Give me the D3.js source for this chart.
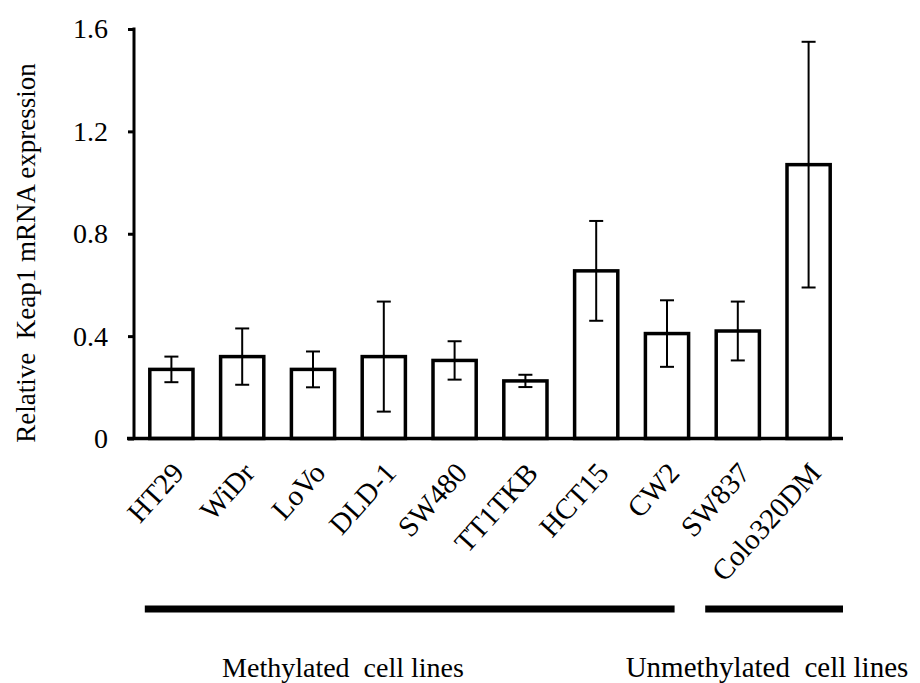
<!DOCTYPE html>
<html>
<head>
<meta charset="utf-8">
<script src="https://d3js.org/d3.v7.min.js"></script>
<style>
  body { margin: 0; background: #fff; }
  text { font-family: "Liberation Serif", "Times New Roman", serif; fill: #000; }
</style>
</head>
<body>
<svg width="920" height="683"></svg>
<script>
var cellLines = ["HT29", "WiDr", "LoVo", "DLD-1", "SW480", "TT1TKB", "HCT15", "CW2", "SW837", "Colo320DM"];
var expression = [0.27, 0.32, 0.27, 0.32, 0.305, 0.225, 0.655, 0.41, 0.42, 1.07];
var errors = [0.05, 0.11, 0.07, 0.215, 0.075, 0.024, 0.195, 0.13, 0.115, 0.48];
var yTicks = [0, 0.4, 0.8, 1.2, 1.6];
var groups = [
  {label: "Methylated  cell lines", first: "HT29", last: "CW2"},
  {label: "Unmethylated  cell lines", first: "SW837", last: "Colo320DM"}
];

var data = cellLines.map(function(c, i) {
  return {name: c, value: expression[i], err: errors[i]};
});

var svg = d3.select("svg");

var x = d3.scaleBand()
    .domain(cellLines)
    .range([136, 844])
    .paddingInner(0.39)
    .paddingOuter(0.195);

var y = d3.scaleLinear()
    .domain([0, 1.6])
    .range([438.5, 29]);

var axisX = 134;

// y axis
var yAxis = svg.append("g")
    .attr("transform", "translate(" + axisX + ",0)")
    .call(d3.axisLeft(y)
      .tickValues(yTicks)
      .tickSize(6)
      .tickPadding(20)
      .tickFormat(function(d) { return d === 0 ? "0" : d3.format(".1f")(d); }));
yAxis.select(".domain").remove();
yAxis.selectAll(".tick line").attr("stroke", "#000").attr("stroke-width", 3);
yAxis.selectAll(".tick text")
    .style("font-size", "28px")
    .attr("fill", "#000");

svg.append("line")
    .attr("x1", axisX).attr("x2", axisX)
    .attr("y1", y(1.6) - 1.5).attr("y2", y(0))
    .attr("stroke", "#000").attr("stroke-width", 3);

// bars
svg.selectAll(".bar")
  .data(data)
  .enter().append("rect")
    .attr("class", "bar")
    .attr("x", function(d) { return x(d.name); })
    .attr("y", function(d) { return y(d.value); })
    .attr("width", x.bandwidth())
    .attr("height", function(d) { return y(0) - y(d.value); })
    .attr("fill", "#fff")
    .attr("stroke", "#000")
    .attr("stroke-width", 3.5);

// error bars
var eb = svg.selectAll(".err")
  .data(data)
  .enter().append("g")
    .attr("class", "err")
    .attr("transform", function(d) { return "translate(" + (x(d.name) + x.bandwidth() / 2) + ",0)"; });

eb.append("line")
    .attr("y1", function(d) { return y(d.value + d.err); })
    .attr("y2", function(d) { return y(d.value - d.err); })
    .attr("stroke", "#000").attr("stroke-width", 2);
eb.append("line")
    .attr("x1", -7).attr("x2", 7)
    .attr("y1", function(d) { return y(d.value + d.err); })
    .attr("y2", function(d) { return y(d.value + d.err); })
    .attr("stroke", "#000").attr("stroke-width", 2);
eb.append("line")
    .attr("x1", -7).attr("x2", 7)
    .attr("y1", function(d) { return y(d.value - d.err); })
    .attr("y2", function(d) { return y(d.value - d.err); })
    .attr("stroke", "#000").attr("stroke-width", 2);

// x baseline
svg.append("line")
    .attr("x1", axisX - 7).attr("x2", x.range()[1] - 1)
    .attr("y1", y(0)).attr("y2", y(0))
    .attr("stroke", "#000").attr("stroke-width", 3.5);

// category labels
svg.selectAll(".cat")
  .data(cellLines)
  .enter().append("text")
    .attr("class", "cat")
    .attr("transform", function(d) {
      return "translate(" + (x(d) + x.bandwidth() / 2 + 14) + ",474) rotate(-48)";
    })
    .attr("text-anchor", "end")
    .style("font-size", "29px")
    .text(function(d) { return d; });

// group bars and labels
groups.forEach(function(g, i) {
  var x1 = i === 0 ? x(g.first) - 5 : x(g.first) - 11;
  var x2 = i === 0 ? x(g.last) + x.bandwidth() - 14 : x.range()[1] - 1;
  svg.append("line")
      .attr("x1", x1).attr("x2", x2)
      .attr("y1", 609).attr("y2", 609)
      .attr("stroke", "#000").attr("stroke-width", 7);
  svg.append("text")
      .attr("x", i === 0 ? 343 : 767)
      .attr("y", 677)
      .attr("text-anchor", "middle")
      .style("font-size", i === 0 ? "28px" : "29px")
      .style("white-space", "pre")
      .text(g.label);
});

// y title
svg.append("text")
    .attr("transform", "translate(35,253) rotate(-90)")
    .attr("text-anchor", "middle")
    .style("font-size", "27px")
    .style("white-space", "pre")
    .text("Relative  Keap1 mRNA expression");
</script>
</body>
</html>
